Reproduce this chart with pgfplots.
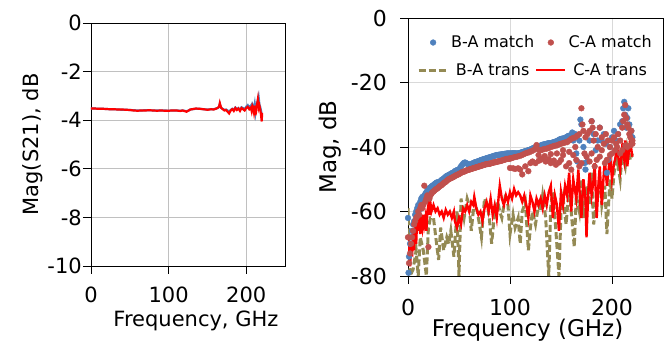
\documentclass[border=0pt]{standalone}
\usepackage{pgfplots}
\pgfplotsset{compat=1.18}
\usepackage{fontspec}
\setmainfont{DejaVu Sans}
\definecolor{cblue}{HTML}{4F81BD}
\definecolor{cred}{HTML}{C0504D}
\definecolor{colive}{HTML}{948A54}
\definecolor{lred}{HTML}{FF0000}
\definecolor{gridl}{HTML}{C0C0C0}
\definecolor{gridr}{HTML}{D9D9D9}
\pgfplotsset{longline/.style={legend image code/.code={\draw[##1] (0pt,0pt) -- (29pt,0pt);}},
  dotlegend/.style={legend image code/.code={\draw[mark repeat=2, mark phase=2, ##1] plot coordinates {(0pt,0pt) (14.5pt,0pt) (29pt,0pt)};}}}
\begin{document}
\begin{tikzpicture}
\path[use as bounding box] (-91pt,-84pt) rectangle (581pt,266pt);
\pgfplotsset{
  common/.style={
    scale only axis,
    axis line style={black, line width=0.8pt},
    tick style={black, line width=0.8pt},
    major tick length=8pt,
    tick align=outside,
    xtick pos=bottom, ytick pos=left,
    /pgf/number format/assume math mode=true,
    grid=major,
  }
}
% ---------------- left axis ----------------
\begin{axis}[common,
  at={(0pt,0pt)}, anchor=south west,
  width=194pt, height=243pt,
  xmin=0, xmax=250, ymin=-10, ymax=0,
  xtick={0,100,200}, ytick={-10,-8,-6,-4,-2,0},
  tick label style={font=\fontsize{21}{23}\selectfont},
  xticklabel style={anchor=base, yshift=-28pt},
  yticklabel style={inner xsep=0pt, xshift=-1pt},
  major grid style={gridl, line width=0.8pt},
  ylabel={Mag(S21), dB},
  xlabel={Frequency, GHz},
  label style={font=\fontsize{21}{23}\selectfont},
  xlabel style={at={(axis description cs:0.541,-0.247)}, anchor=base},
  ylabel style={at={(axis description cs:-0.299,0.5)}, anchor=center},
]
\addplot[cblue, line width=2.2pt] coordinates {
(0,-3.52) (5,-3.52) (10,-3.53) (15,-3.53) (20,-3.54) (25,-3.55) (30,-3.55) (35,-3.56) (40,-3.57) (45,-3.57) (50,-3.58) (55,-3.59) (60,-3.6) (65,-3.6) (70,-3.59) (75,-3.59) (80,-3.6) (85,-3.6) (90,-3.6) (95,-3.6) (100,-3.61) (105,-3.6) (110,-3.6) (115,-3.61) (118,-3.6) (120,-3.61) (123,-3.63) (126,-3.6) (128,-3.56) (130,-3.55) (135,-3.53) (140,-3.53) (145,-3.55) (150,-3.56) (155,-3.55) (158,-3.55) (160,-3.53) (163,-3.5) (165,-3.46) (166,-3.33) (167,-3.43) (168,-3.5) (170,-3.54) (172,-3.58) (174,-3.56) (176,-3.6) (178,-3.66) (180,-3.58) (182,-3.53) (184,-3.58) (186,-3.48) (188,-3.55) (190,-3.5) (192,-3.58) (194,-3.47) (196,-3.5) (198,-3.55) (200,-3.45) (202,-3.38) (204,-3.48) (206,-3.4) (207,-3.52) (208,-3.36) (209,-3.44) (210,-3.55) (211,-3.35) (212,-3.65) (213,-3.4) (214,-3.3) (215,-3.2) (216,-3.05) (217,-3.35) (218,-3.45) (219,-3.6) (220,-3.75)
};
\addplot[lred, line width=2.2pt] coordinates {
(0,-3.52) (5,-3.52) (10,-3.53) (15,-3.53) (20,-3.54) (25,-3.55) (30,-3.55) (35,-3.56) (40,-3.56) (45,-3.57) (50,-3.58) (55,-3.6) (60,-3.61) (65,-3.6) (70,-3.6) (75,-3.59) (80,-3.6) (85,-3.61) (90,-3.6) (95,-3.61) (100,-3.61) (105,-3.6) (110,-3.6) (115,-3.62) (118,-3.6) (120,-3.62) (123,-3.65) (126,-3.6) (128,-3.56) (130,-3.55) (135,-3.52) (140,-3.53) (145,-3.55) (150,-3.57) (155,-3.55) (158,-3.56) (160,-3.54) (163,-3.5) (165,-3.45) (166,-3.3) (167,-3.42) (168,-3.5) (170,-3.55) (172,-3.6) (174,-3.58) (176,-3.65) (178,-3.72) (180,-3.6) (182,-3.55) (184,-3.62) (186,-3.5) (188,-3.58) (190,-3.52) (192,-3.62) (194,-3.5) (196,-3.55) (198,-3.6) (200,-3.5) (202,-3.45) (204,-3.55) (206,-3.48) (207,-3.62) (208,-3.42) (209,-3.5) (210,-3.68) (211,-3.4) (212,-3.8) (213,-3.45) (214,-3.35) (215,-3.15) (216,-3.5) (217,-3.4) (218,-3.55) (219,-3.75) (220,-4.05) (220.5,-3.7)
};
\end{axis}
% ---------------- right axis ----------------
\begin{axis}[common,
  at={(317pt,-10pt)}, anchor=south west,
  width=255pt, height=258pt,
  xmin=0, xmax=250, ymin=-80, ymax=0,
  xtick={0,100,200}, ytick={-80,-60,-40,-20,0},
  tick label style={font=\fontsize{22}{24}\selectfont},
  xticklabel style={anchor=base, yshift=-32pt},
  yticklabel style={inner xsep=0pt, xshift=-13pt},
  major grid style={gridr, line width=0.8pt},
  ylabel={Mag, dB},
  xlabel={Frequency (GHz)},
  label style={font=\fontsize{23}{25}\selectfont},
  xlabel style={at={(axis description cs:0.469,-0.236)}, anchor=base},
  ylabel style={at={(axis description cs:-0.306,0.5)}, anchor=center},
  legend columns=2,
  legend style={draw=none, fill=none, at={(axis description cs:0.035,0.94)}, anchor=north west,
    font=\fontsize{16}{18}\selectfont, row sep=10pt,
    nodes={inner xsep=2pt},
    /tikz/every even column/.append style={column sep=-1pt},
    inner sep=0pt},
]
\addlegendimage{only marks, mark=*, mark size=2.9pt, cblue, mark options={draw=cblue, fill=cblue}, dotlegend}
\addlegendentry{B-A match}
\addlegendimage{only marks, mark=*, mark size=2.9pt, cred, mark options={draw=cred, fill=cred}, dotlegend}
\addlegendentry{C-A match}
\addlegendimage{colive, line width=3pt, dash pattern=on 7pt off 3pt, longline}
\addlegendentry{B-A trans}
\addlegendimage{lred, line width=2.4pt, longline}
\addlegendentry{C-A trans}
% B-A trans
\addplot[colive, line width=3pt, dash pattern=on 7pt off 3pt, forget plot] coordinates {
(0,-59) (2,-80) (5,-78) (8,-72) (10,-80) (12,-68) (15,-72) (18,-80) (20,-65) (22,-62) (25,-62) (28,-70) (30,-75) (32,-65) (35,-72) (38,-68) (40,-70) (42,-66) (45,-74) (48,-60) (50,-80) (52,-56) (55,-62) (58,-56) (60,-58) (62,-66) (65,-57) (68,-60) (70,-64) (72,-68) (75,-56) (78,-58) (80,-63) (82,-70) (85,-60) (88,-57) (90,-60) (92,-62) (95,-56) (98,-58) (100,-67) (103,-61) (105,-65) (108,-62) (110,-70) (112,-60) (115,-57) (118,-72) (120,-65) (122,-60) (125,-64) (128,-58) (130,-60) (132,-55) (135,-62) (138,-80) (140,-58) (142,-54) (145,-66) (148,-80) (150,-60) (152,-56) (155,-64) (158,-52) (160,-60) (163,-71) (165,-55) (168,-60) (170,-50) (172,-62) (175,-52) (178,-58) (180,-48) (182,-64) (185,-56) (188,-50) (190,-58) (193,-52) (195,-67) (198,-50) (200,-56) (202,-48) (205,-44) (208,-50) (210,-42) (213,-46) (215,-40) (218,-44) (220,-42)
};
% C-A trans
\addplot[lred, line width=2.4pt, forget plot] coordinates {
(0,-68) (1,-72) (2,-77) (3,-70) (4,-74) (5,-66) (6,-72) (7,-64) (8,-70) (9,-62) (10,-66) (11,-60) (12,-67) (13,-63) (14,-65) (15,-61) (16,-64) (17,-62) (18,-66) (19,-60) (20,-58) (21,-61) (22,-57.5) (23,-60) (24,-59) (25,-58) (27,-60) (29,-59) (31,-61) (33,-60) (35,-62) (37,-59.5) (39,-61) (41,-60) (43,-62) (45,-60) (46,-63) (48,-65) (50,-62) (52,-64) (54,-59) (56,-60) (58,-58) (60,-60) (62,-57) (64,-58) (65,-55.5) (67,-59) (69,-61) (71,-60) (73,-63) (75,-59) (77,-57) (79,-60) (81,-56) (83,-61) (85,-58) (87,-62) (89,-55) (90,-52) (92,-56) (94,-58) (96,-55) (98,-57) (100,-54) (102,-56) (104,-53) (106,-55) (108,-54) (110,-55) (112,-57) (114,-55) (116,-58) (118,-62) (120,-55) (122,-57) (124,-60) (126,-56) (128,-58) (130,-56) (132,-59) (134,-55) (136,-58) (138,-54) (140,-52) (142,-62) (144,-55) (146,-58) (148,-66) (150,-54) (152,-58) (154,-52) (156,-55) (158,-48) (160,-60) (162,-50) (164,-54) (165,-56) (167,-47) (169,-58) (170,-62) (172,-50) (174,-56) (175,-68) (177,-52) (178,-48) (180,-55) (182,-50) (183,-45) (185,-62) (187,-50) (188,-46) (190,-58) (192,-48) (193,-44) (195,-52) (197,-46) (198,-42) (200,-50) (202,-45) (203,-44) (205,-40) (207,-45) (208,-47) (210,-40) (212,-44) (213,-38) (215,-46) (217,-40) (218,-37) (219,-41) (220,-43)
};
% B-A match
\addplot[only marks, mark=*, mark size=2.9pt, cblue, mark options={draw=cblue, fill=cblue}, forget plot] coordinates {
(0,-62) (0.5,-79) (1,-74) (2,-70) (3,-68) (4,-66) (5,-64) (6,-63) (7,-61) (8,-60) (9,-59) (10,-58) (11,-59.5) (12,-57) (13,-56) (14,-55.5) (15,-56) (16,-55) (17,-54.5) (18,-54) (19,-53.5) (20,-53) (21,-52.8) (22,-52.5) (23,-52.2) (24,-52) (25,-51.8) (26,-51.5) (27,-51.3) (28,-51) (29,-51) (30,-51) (31,-50.8) (32,-50.5) (33,-50.2) (34,-50) (35,-49.8) (36,-49.5) (37,-49.2) (38,-49) (39,-48.8) (40,-48.7) (41,-48.5) (42,-48.3) (43,-48.1) (44,-48) (45,-47.8) (46,-47.5) (47,-47.3) (48,-47.2) (49,-47.1) (50,-47) (51,-46.5) (52,-46) (53,-45.6) (54,-45.2) (55,-44.9) (56,-44.8) (57,-45) (58,-45.2) (59,-45.4) (60,-45.5) (61,-45.4) (62,-45.3) (63,-45.1) (64,-45) (65,-44.8) (66,-44.7) (67,-44.6) (68,-44.5) (69,-44.4) (70,-44.3) (71,-44.1) (72,-44) (73,-43.9) (74,-43.8) (75,-43.7) (76,-43.6) (77,-43.5) (78,-43.4) (79,-43.3) (80,-43.2) (81,-43.1) (82,-43) (83,-42.9) (84,-42.8) (85,-42.7) (86,-42.6) (87,-42.5) (88,-42.5) (89,-42.4) (90,-42.4) (91,-42.3) (92,-42.3) (93,-42.2) (94,-42.2) (95,-42.1) (96,-42.1) (97,-42) (98,-42) (99,-42) (100,-42) (101,-42) (102,-42) (103,-41.9) (104,-41.9) (105,-42) (106,-42) (107,-42) (108,-42) (109,-41.9) (110,-41.8) (111,-41.7) (112,-41.6) (113,-41.5) (114,-41.4) (115,-41.3) (116,-41.2) (117,-41.1) (118,-41) (119,-40.9) (120,-40.8) (121,-40.6) (122,-40.5) (123,-40.3) (124,-40.2) (125,-40.1) (126,-40) (127,-39.9) (128,-39.8) (129,-39.7) (130,-39.6) (131,-39.4) (132,-39.3) (133,-39.2) (134,-39.2) (135,-39.1) (136,-39) (137,-38.9) (138,-38.8) (139,-38.8) (140,-38.8) (141,-38.7) (142,-38.6) (143,-38.5) (144,-38.4) (145,-38.3) (146,-38.2) (147,-38) (148,-37.8) (149,-37.6) (150,-37.5) (151,-37.4) (152,-37.4) (153,-37.3) (154,-37.2) (155,-37) (156,-36.8) (157,-36.6) (158,-36.5) (160,-37) (161,-35.5) (162,-38) (164,-36) (165,-42) (166,-44.5) (168,-38) (169,-31.5) (170,-33) (172,-40) (173,-45) (174,-47) (176,-44.5) (178,-38) (180,-32) (182,-36) (184,-41) (186,-38) (188,-34) (190,-38) (192,-36) (194,-39) (195,-48) (196,-44) (198,-40) (200,-37) (202,-35) (204,-38) (206,-36) (208,-33) (210,-32) (211,-28) (212,-26) (213,-30) (214,-34) (215,-31) (216,-28) (217,-33) (218,-36) (219,-35) (220,-37)
};
% C-A match
\addplot[only marks, mark=*, mark size=2.9pt, cred, mark options={draw=cred, fill=cred}, forget plot] coordinates {
(0,-68) (1,-76) (2,-73) (3,-70) (4,-68) (5,-66) (6,-64) (7,-63) (8,-62) (9,-61.5) (10,-60) (11,-61) (12,-59) (13,-58) (14,-59) (15,-58) (16,-52) (17,-57) (18,-56) (19,-55) (20,-71) (21,-56) (22,-55) (23,-54.5) (24,-54) (25,-53.8) (26,-53.5) (27,-53.2) (28,-53) (29,-52.8) (30,-52.5) (31,-52.2) (32,-52) (33,-51.8) (34,-51.5) (35,-51.2) (36,-51) (37,-50.8) (38,-50.5) (39,-50.2) (40,-50) (41,-49.8) (42,-49.7) (43,-49.5) (44,-49.4) (45,-49.2) (46,-49) (47,-48.8) (48,-48.7) (49,-48.5) (50,-48.4) (51,-48.2) (52,-48) (53,-47.8) (54,-47.7) (55,-47.6) (56,-47.5) (57,-47.3) (58,-47.2) (59,-47.1) (60,-47) (61,-46.9) (62,-46.8) (63,-46.7) (64,-46.6) (65,-46.5) (66,-46.4) (67,-46.3) (68,-46.2) (69,-46.1) (70,-46) (71,-45.9) (72,-45.8) (73,-45.7) (74,-45.6) (75,-45.5) (76,-45.4) (77,-45.3) (78,-45.3) (79,-45.2) (80,-45.2) (81,-45.1) (82,-45) (83,-44.9) (84,-44.8) (85,-44.7) (86,-44.7) (87,-44.6) (88,-44.5) (89,-44.4) (90,-44.4) (91,-44.3) (92,-44.2) (93,-44.1) (94,-44) (95,-43.9) (96,-43.8) (97,-43.7) (98,-43.7) (99,-43.6) (100,-43.6)
(101,-43.5) (103,-43.3) (105,-43.1) (107,-43) (109,-42.8) (111,-42.6) (113,-42.3) (115,-42) (117,-41.8) (119,-41.6) (121,-41.3) (123,-41) (125,-40.5) (126,-39.4) (128,-40.8) (130,-41) (132,-40.8) (134,-40.6) (136,-40.5) (138,-40.3) (140,-40) (142,-39.8) (144,-39.6) (146,-39.5) (148,-39.2) (150,-39) (152,-38.8) (154,-38.6) (156,-38.5) (158,-38) (160,-37.5) (162,-37.2) (164,-37) (166,-36.5) (168,-36) (170,-28) (171,-33) (172,-35) (174,-37) (176,-36) (178,-35) (180,-32) (181,-34) (182,-38) (184,-36) (186,-40) (188,-34) (190,-37) (192,-39) (194,-36) (196,-38) (198,-40) (200,-38) (202,-37) (204,-39) (206,-36) (208,-38) (210,-34) (211,-32) (212,-30) (213,-27) (214,-31) (215,-33) (216,-34) (217,-36) (218,-37) (219,-35) (220,-38)
(100,-46.5) (103,-46.6) (105,-46.8) (108,-46.6) (110,-47) (112,-48.5) (115,-46) (118,-47.5) (120,-45) (122,-44.5) (125,-45) (128,-44.3) (130,-44) (132,-43.5) (135,-44.5) (138,-43.8) (140,-45) (143,-44.2) (145,-45.5) (148,-44.8) (150,-44) (152,-42.5) (155,-46) (158,-45) (160,-47) (162,-42.5) (165,-44) (168,-46) (170,-45) (173,-42) (175,-43) (178,-44.5) (180,-42) (183,-46) (185,-44) (188,-43) (190,-41) (193,-45) (195,-44) (198,-42.5) (200,-42) (203,-41) (205,-40) (208,-42) (210,-41) (213,-39.5) (215,-40) (218,-39.5) (220,-39)
(128,-42.5) (134,-42.8) (140,-42.2) (146,-42) (152,-41) (158,-41.5) (164,-40)
};
\end{axis}
\end{tikzpicture}
\end{document}
